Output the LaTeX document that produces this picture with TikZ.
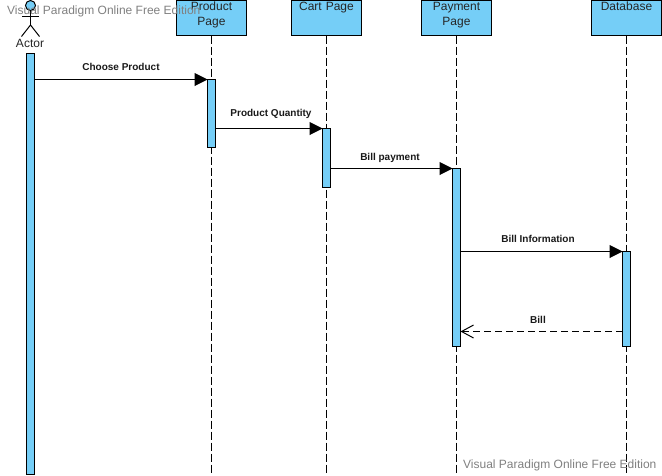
\documentclass[tikz,border=0pt]{standalone}
\usepackage{fontspec}
\setmainfont{Liberation Sans}
\usetikzlibrary{arrows.meta, positioning}

\definecolor{barblue}{HTML}{75CEF7}

\begin{document}
\begin{tikzpicture}[
    x=1pt, y=1pt,
    node distance=45pt,
    pagebox/.style={rectangle, draw, line width=1pt, fill=barblue, text width=70pt, align=center, inner sep=0pt, outer sep=0pt, text height=9.5pt, text depth=25.5pt, font=\fontsize{12}{15}\selectfont, text=black!85},
    actbar/.style={rectangle, draw, line width=1pt, fill=barblue, minimum width=8pt, inner sep=0pt, outer sep=0pt, anchor=north},
    lifeline/.style={line width=1pt, dash pattern=on 8pt off 3pt},
    call/.style={-{Triangle[length=13pt,width=13pt]}, line width=1pt},
    reply/.style={-{Straight Barb[length=12pt,width=13pt,line width=1pt]}, line width=1pt, dash pattern=on 7pt off 4pt},
    msglabel/.style={font=\fontsize{10}{12}\selectfont\bfseries, text=black!90, inner sep=0pt},
    watermark/.style={font=\fontsize{12}{14}\selectfont, text=black!50, inner sep=0pt, anchor=west}
]
    \useasboundingbox (0,0) rectangle (662,-475);

    % Page headers
    \node[pagebox, anchor=north] (product_page) at (211.5,-0.5) {Product\\Page};
    \node[pagebox, right=of product_page] (cart_page) {Cart Page};
    \node[pagebox, right=60pt of cart_page] (payment_page) {Payment\\Page};
    \node[pagebox, right=100pt of payment_page] (database_page) {Database};

    % Lifelines
    \foreach \n in {product,cart,payment,database} {
        \coordinate (\n_end) at (\n_page.south |- 0,-475);
        \draw[lifeline] (\n_page.south) -- (\n_end);
    }

    % Actor
    \node[circle, draw, line width=1pt, fill=barblue, minimum size=10pt, inner sep=0pt, outer sep=0pt] (actor_head) at (30.5,-5.5) {};
    \coordinate (actor_hip) at (30.5,-25);
    \draw[line width=1pt] (actor_head.south) -- (actor_hip);
    \draw[line width=1pt] (22,-16) -- (39,-16);
    \draw[line width=1pt] (21.5,-36.5) -- (actor_hip) -- (39.5,-36.5);
    \node[font=\fontsize{12}{14}\selectfont, text=black!85, inner sep=0pt] (actor_name) at (30,-43) {Actor};

    % Activation bars
    \node[actbar, minimum height=421.5pt] (actor_bar) at (30.5,-53) {};
    \node[actbar, minimum height=68pt] (product_bar) at (211.5,-79.5) {};
    \node[actbar, minimum height=59pt] (cart_bar) at (326.5,-128.5) {};
    \node[actbar, minimum height=178pt] (payment_bar) at (456.5,-168.5) {};
    \node[actbar, minimum height=95pt] (database_bar) at (626.5,-251.5) {};

    % Messages
    \draw[call] (actor_bar.east |- product_bar.north) -- (product_bar.north west);
    \node[msglabel] (choose_label) at (121,-66.5) {Choose Product};

    \draw[call] (product_bar.east |- cart_bar.north) -- (cart_bar.north west);
    \node[msglabel] (quantity_label) at (271,-113.5) {Product Quantity};

    \draw[call] (cart_bar.east |- payment_bar.north) -- (payment_bar.north west);
    \node[msglabel] (payment_label) at (390,-157.5) {Bill payment};

    \draw[call] (payment_bar.east |- database_bar.north) -- (database_bar.north west);
    \node[msglabel] (info_label) at (538,-238.5) {Bill Information};

    \coordinate (bill_y) at (0,-331.5);
    \draw[reply] (database_bar.west |- bill_y) -- (payment_bar.east |- bill_y);
    \node[msglabel] (bill_label) at (538,-319.5) {Bill};

    % Watermarks
    \node[watermark] (mark_top) at (7,-11) {Visual Paradigm Online Free Edition};
    \node[watermark] (mark_bottom) at (463,-465) {Visual Paradigm Online Free Edition};
\end{tikzpicture}
\end{document}
